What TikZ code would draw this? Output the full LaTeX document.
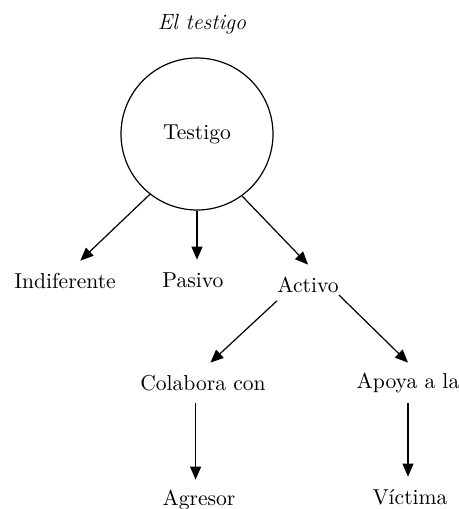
\documentclass[tikz,border=0pt]{standalone}
\usetikzlibrary{arrows.meta}

\tikzset{
    lbl/.style = {inner sep=0pt, minimum height=20pt, font=\fontsize{10.8}{12}\selectfont},
    arr/.style = {-{Triangle[length=6.5pt, width=5.5pt]}, line width=0.6pt}
}

\begin{document}
\begin{tikzpicture}[x=0.5pt, y=-0.5pt, line join = round]
    \useasboundingbox (0,0) rectangle (459,509);

    \node [lbl, font=\fontsize{11}{12}\selectfont\itshape] (titulo) at (202,24) {El testigo};
    \node [draw, circle, line width=0.6pt, minimum size=76pt, inner sep=0pt,
           font=\fontsize{10.8}{12}\selectfont] (testigo) at (197,134) {\raisebox{2pt}{Testigo}\hspace{8pt}};

    \node [lbl] (indif)  at (65,281)  {Indiferente};
    \node [lbl] (pasivo) at (193,280) {Pasivo};
    \node [lbl] (activo) at (308,285) {Activo};
    \node [lbl] (colab)  at (203,383) {Colabora con};
    \node [lbl] (apoya)  at (408,383) {Apoya a la};
    \node [lbl] (agresor) at (199,500) {Agresor};
    \node [lbl] (victima) at (410,497) {Víctima};

    % primer nivel
    \draw [arr] (testigo.232) -- (indif.53);
    \draw [arr] (testigo.south) -- (testigo.south |- pasivo.north);
    \draw [arr] (testigo.306) -- (activo.north);

    % segundo nivel
    \draw [arr] (activo.207) -- (colab.70);
    \draw [arr] (activo.342) -- (apoya.north);
    \draw [arr] (colab.250) -- (colab.250 |- agresor.north);
    \draw [arr] (apoya.south) -- (apoya.south |- victima.north);
\end{tikzpicture}
\end{document}
